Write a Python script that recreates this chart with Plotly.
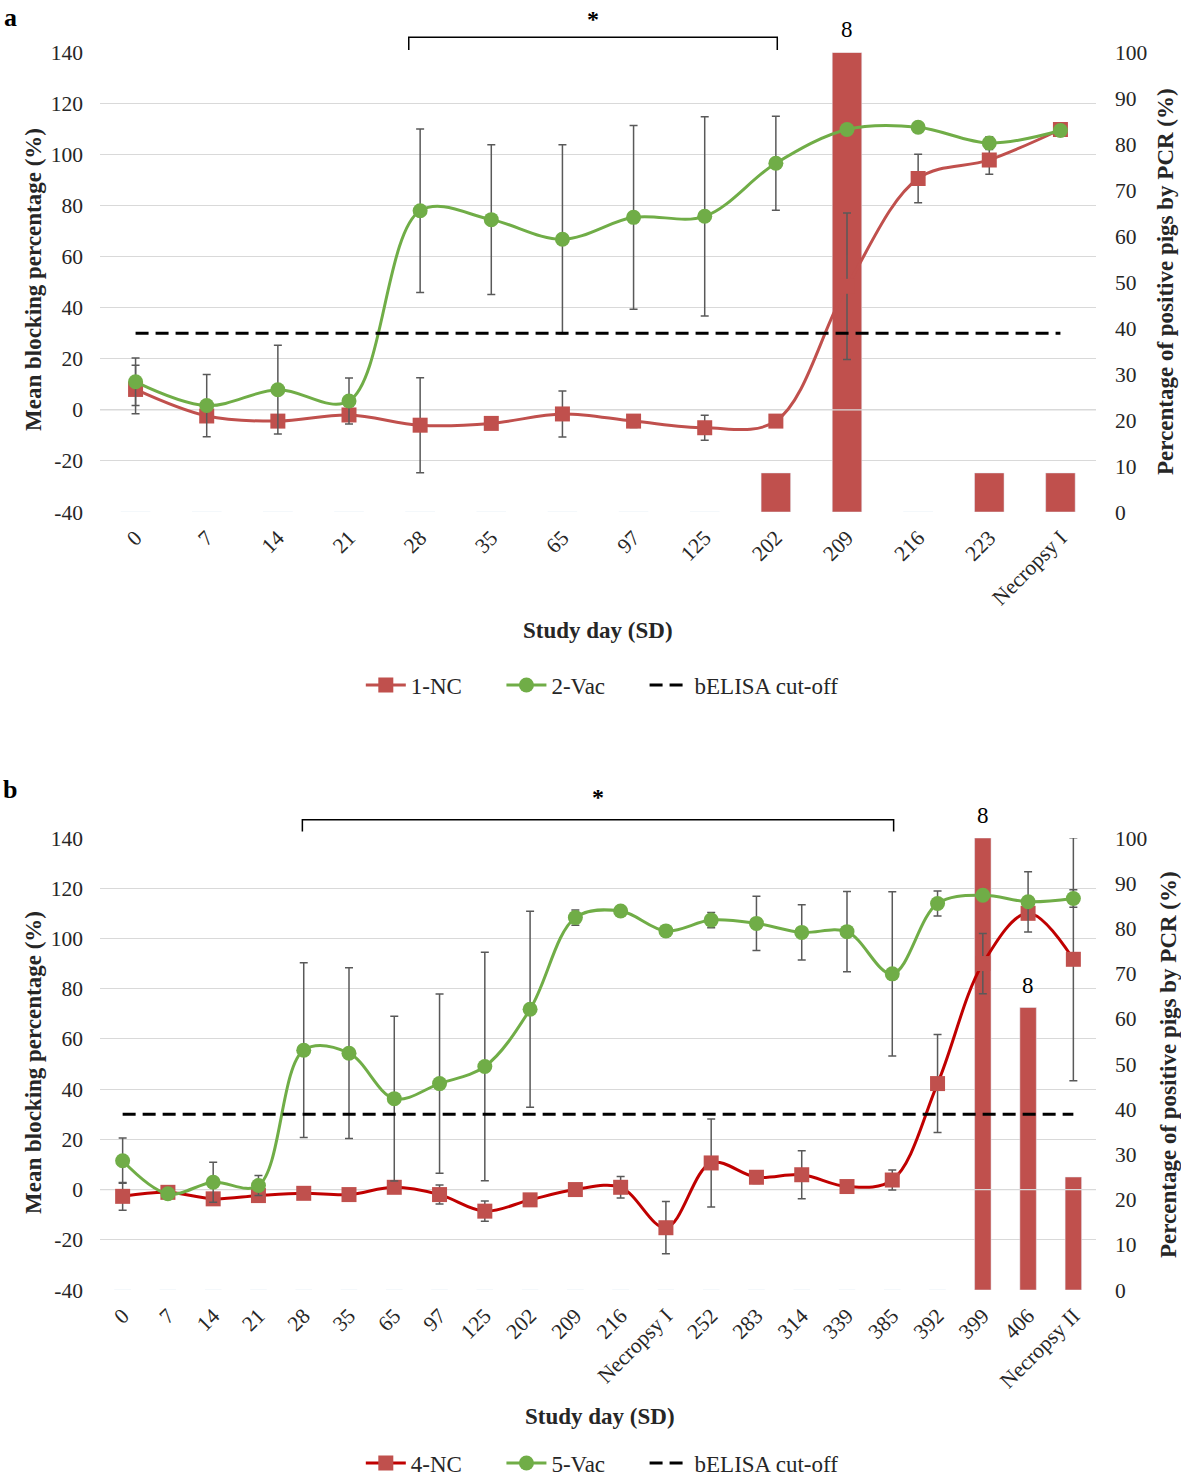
import plotly.graph_objects as go

# ---------------- data ----------------
cats_a = ["0", "7", "14", "21", "28", "35", "65", "97", "125", "202", "209", "216", "223", "Necropsy I"]
nc_a = [8, -2.4, -4.4, -2, -6, -5.3, -1.6, -4.4, -7, -4.4, 48.4, 90.6, 97.9, 109.8]
nc_a_err = [9.5, 0, 0, 0, 18.6, 0, 9, 2.5, 4.9, 0, 28.7, 9.5, 5.6, 0]
vac_a = [11, 1.7, 7.9, 3.5, 78, 74.5, 66.8, 75.4, 75.8, 96.6, 109.8, 110.7, 104.5, 109.4]
vac_a_err = [9.3, 12.2, 17.4, 9, 32, 29.3, 37, 36, 39, 18.4, 0, 0, 2.5, 0]
pcr_a = [0, 0, 0, 0, 0, 0, 0, 0, 0, 8.5, 100, 0, 8.5, 8.5]
pcr_a_labels = ["", "", "", "", "", "", "", "", "", "", "8", "", "", ""]

cats_b = ["0", "7", "14", "21", "28", "35", "65", "97", "125", "202", "209", "216", "Necropsy I",
          "252", "283", "314", "339", "385", "392", "399", "406", "Necropsy II"]
nc_b = [-2.7, -1.1, -3.7, -2.4, -1.5, -2, 0.9, -2, -8.6, -4.1, 0, 0.9, -15.2,
        10.6, 4.9, 5.9, 1.2, 3.8, 42.2, 90, 110, 91.7]
nc_b_err = [5.5, 0, 0, 0, 0, 0, 0, 3.8, 4, 0, 0, 4.3, 10.4,
            17.5, 2.5, 9.6, 0, 4, 19.5, 12, 0, 48.4]
vac_b = [11.5, -1.7, 2.9, 1.6, 55.5, 54.3, 36.2, 42.2, 49, 71.8, 108.3, 110.9, 103,
         107.3, 106, 102.4, 102.7, 85.9, 113.9, 117.2, 114.6, 115.9]
vac_b_err = [9, 0, 8, 4, 34.8, 34, 32.8, 35.7, 45.5, 39, 3, 0, 0,
             3, 10.8, 11, 16, 32.7, 5, 0, 12, 3.5]
pcr_b = [0] * 19 + [100, 62.5, 25]
pcr_b_labels = [""] * 19 + ["8", "8", ""]

cutoff = 30
left_ticks = list(range(-40, 141, 20))
right_ticks = list(range(0, 101, 10))

# ---------------- style ----------------
W, H = 1181, 1480
FONT = "Liberation Serif, Times New Roman, serif"
RED = "#C0504D"
RED_DARK = "#C00000"
GREEN = "#70AD47"
GRID = "#D9D9D9"
ERR = "#595959"
TXT = "#262626"
PAD = "\u00a0" * 6

xdom = [100 / W, 1096 / W]
ydom_a = [1 - 512 / H, 1 - 52.4 / H]
ydom_b = [1 - 1290 / H, 1 - 838 / H]

fig = go.Figure()


def add_panel(cats, nc, nc_err, vac, vac_err, pcr, pcr_labels, xa, ybar, yline,
              legend, names, nc_line_color, barwidth):
    xs = list(range(len(cats)))
    n = len(cats)
    fig.add_trace(go.Bar(x=xs, y=pcr, xaxis=xa, yaxis=ybar, marker_color=RED,
                         width=barwidth, showlegend=False))
    # horizontal axis line at 0, drawn above the bars
    fig.add_trace(go.Scatter(x=[-0.5, n - 0.5], y=[0, 0], xaxis=xa, yaxis=yline, mode="lines",
                             line=dict(color=GRID, width=1.3), showlegend=False, hoverinfo="skip"))
    fig.add_trace(go.Scatter(x=xs, y=nc, xaxis=xa, yaxis=yline, mode="lines+markers", name=names[0] + PAD,
                             line=dict(color=nc_line_color, width=3, shape="spline", smoothing=1.0),
                             marker=dict(symbol="square", size=15, color=RED),
                             error_y=dict(type="data", array=nc_err, color=ERR, thickness=1.5, width=4),
                             legend=legend))
    fig.add_trace(go.Scatter(x=xs, y=vac, xaxis=xa, yaxis=yline, mode="lines+markers", name=names[1] + PAD,
                             line=dict(color=GREEN, width=3, shape="spline", smoothing=1.0),
                             marker=dict(symbol="circle", size=15, color=GREEN),
                             error_y=dict(type="data", array=vac_err, color=ERR, thickness=1.5, width=4),
                             legend=legend))
    fig.add_trace(go.Scatter(x=[0, n - 1], y=[cutoff, cutoff], xaxis=xa, yaxis=yline, mode="lines",
                             name="bELISA cut-off", line=dict(color="black", width=3, dash="13px,7px"),
                             legend=legend))
    for i, lab in enumerate(pcr_labels):
        if lab:
            fig.add_annotation(x=i, y=pcr[i], xref=xa, yref=ybar, text=lab, showarrow=False,
                               yanchor="bottom", yshift=8, font=dict(family=FONT, size=23, color="black"))


add_panel(cats_a, nc_a, nc_a_err, vac_a, vac_a_err, pcr_a, pcr_a_labels, "x", "y", "y2",
          "legend", ["1-NC", "2-Vac"], RED, 0.415)
add_panel(cats_b, nc_b, nc_b_err, vac_b, vac_b_err, pcr_b, pcr_b_labels, "x2", "y3", "y4",
          "legend2", ["4-NC", "5-Vac"], RED_DARK, 0.364)

tickfont = dict(family=FONT, size=21.5, color=TXT)


def xaxis(cats, anchor):
    return dict(domain=xdom, anchor=anchor, range=[-0.5, len(cats) - 0.5],
                tickmode="array", tickvals=list(range(len(cats))), ticktext=cats,
                tickangle=-45, tickfont=tickfont, showgrid=False, zeroline=False,
                showline=False, ticks="", ticklabelstandoff=8, automargin=False)


def bar_axis(dom, anchor):
    return dict(domain=dom, anchor=anchor, side="right", range=[0, 100],
                tickmode="array", tickvals=right_ticks, ticktext=[str(v) for v in right_ticks],
                tickfont=tickfont, showgrid=False, zeroline=False, showline=False, ticks="",
                ticklabelstandoff=18, automargin=False)


def line_axis(overlay, anchor):
    return dict(overlaying=overlay, anchor=anchor, side="left", range=[-40, 140],
                tickmode="array", tickvals=left_ticks, ticktext=[str(v) for v in left_ticks],
                tickfont=tickfont, showgrid=True, gridcolor=GRID, gridwidth=1.3, zeroline=False,
                showline=False, ticks="", ticklabelstandoff=16, automargin=False)


legend_common = dict(orientation="h", xanchor="center", yanchor="middle",
                     font=dict(family=FONT, size=23, color=TXT), bgcolor="rgba(0,0,0,0)",
                     itemwidth=40, tracegroupgap=0)

fig.update_layout(
    width=W, height=H, margin=dict(l=0, r=0, t=0, b=0, autoexpand=False),
    paper_bgcolor="white", plot_bgcolor="white",
    font=dict(family=FONT, color=TXT),
    barmode="overlay", hovermode=False,
    xaxis=xaxis(cats_a, "y"),
    yaxis=bar_axis(ydom_a, "x"),
    yaxis2=line_axis("y", "x"),
    xaxis2=xaxis(cats_b, "y3"),
    yaxis3=bar_axis(ydom_b, "x2"),
    yaxis4=line_axis("y3", "x2"),
    legend=dict(legend_common, x=0.51, y=1 - 685 / H),
    legend2=dict(legend_common, x=0.51, y=1 - 1463 / H),
)


def bracket(xref, x0, x1, ytop, ybot, ystar):
    fig.add_shape(type="path", xref=xref, yref="paper", layer="above",
                  path=f"M {x0},{ybot} L {x0},{ytop} L {x1},{ytop} L {x1},{ybot}",
                  line=dict(color="black", width=1.5))
    fig.add_annotation(x=(x0 + x1) / 2, y=ystar, xref=xref, yref="paper", text="<b>*</b>",
                       showarrow=False, yanchor="middle", xanchor="center",
                       font=dict(family=FONT, size=24, color="black"))


bracket("x", cats_a.index("28") - 0.16, cats_a.index("202") + 0.02, 1 - 37.2 / H, 1 - 50 / H, 1 - 19 / H)
bracket("x2", cats_b.index("28") - 0.03, cats_b.index("385") + 0.03, 1 - 819.8 / H, 1 - 831.4 / H, 1 - 797 / H)

titles = [
    ("Mean blocking percentage (%)", 33, 280, -90),
    ("Percentage of positive pigs by PCR (%)", 1166, 282, -90),
    ("Study day (SD)", 598, 630, 0),
    ("Mean blocking percentage (%)", 33, 1063, -90),
    ("Percentage of positive pigs by PCR (%)", 1168, 1065, -90),
    ("Study day (SD)", 600, 1416, 0),
]
for txt, px, py, ang in titles:
    fig.add_annotation(x=px / W, y=1 - py / H, xref="paper", yref="paper", text=f"<b>{txt}</b>",
                       showarrow=False, textangle=ang, xanchor="center", yanchor="middle",
                       font=dict(family=FONT, size=23, color=TXT))

for lab, px, py in [("a", 10, 17), ("b", 10, 789)]:
    fig.add_annotation(x=px / W, y=1 - py / H, xref="paper", yref="paper", text=f"<b>{lab}</b>",
                       showarrow=False, xanchor="center", yanchor="middle",
                       font=dict(family=FONT, size=26, color="black"))

fig.write_html("out.html", config={"displayModeBar": False},
               post_script="document.body.style.margin='0';document.body.style.overflow='hidden';")
